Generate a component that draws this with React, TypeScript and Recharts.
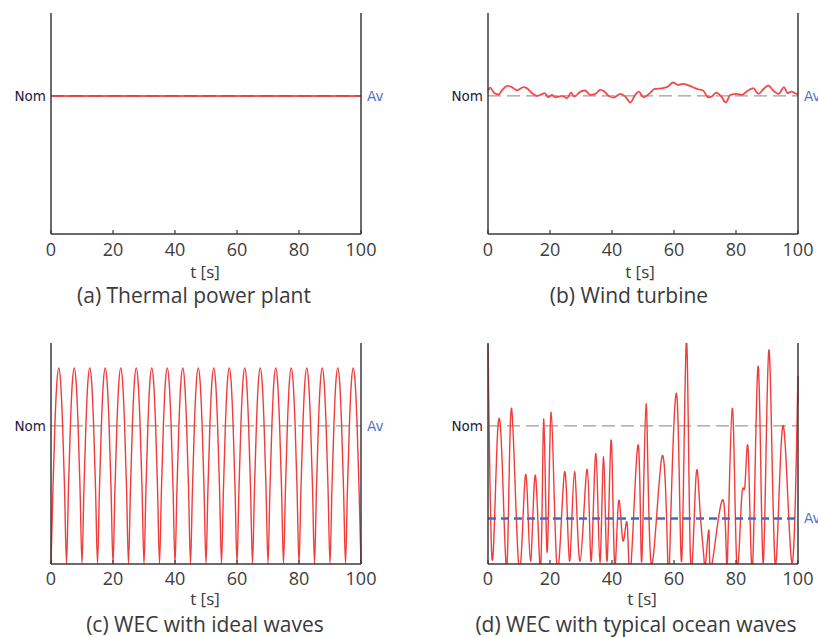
import { LineChart, Line, XAxis, YAxis, ReferenceLine } from "recharts";

// time axis
const T_TICKS = [0, 20, 40, 60, 80, 100];
const NOM = 1;
const Y_MAX = 1.6;

// (a) thermal plant: flat at nominal
const THERMAL_T = [0, 100];
const THERMAL_P = [1, 1];

// (b) wind turbine
const WIND_T = [
  0, 0.7, 2.0, 3.4, 4.5, 6.3, 7.7, 9.3, 11.5, 12.5, 14.2, 15.8, 16.9, 18.3, 19.5, 20.6, 21.7, 23.9,
  25.5, 26.8, 27.8, 29.8, 31.4, 33.0, 34.6, 36.2, 37.5, 38.9, 40.5, 42.7, 44.3, 45.9, 47.5, 48.6,
  50.2, 52.2, 53.8, 56.5, 58.1, 59.7, 61.3, 62.9, 65.1, 67.8, 69.4, 71.0, 72.1, 73.7, 75.3, 76.7,
  78.2, 80.2, 81.8, 83.9, 85.6, 87.2, 88.8, 90.4, 92.0, 93.7, 95.5, 96.6, 97.9, 99.6, 100,
];
const WIND_P = [
  1.035, 1.06, 1.02, 1.01, 1.04, 1.072, 1.063, 1.04, 1.063, 1.056, 1.02, 1.0, 1.007, 1.02, 0.99, 1.007, 0.99, 1.0,
  0.983, 1.024, 0.995, 1.031, 1.039, 1.007, 1.014, 1.043, 1.031, 1.0, 0.988, 1.014, 0.995, 0.952, 1.007, 1.031,
  0.99, 1.02, 1.05, 1.056, 1.068, 1.097, 1.08, 1.087, 1.072, 1.048, 1.039, 0.99, 0.995, 1.024, 0.995, 0.952,
  1.007, 1.014, 1.007, 1.039, 1.056, 1.014, 1.048, 1.075, 1.039, 1.014, 1.063, 1.02, 1.031, 1.014, 1.02,
];

// (c) WEC with ideal waves, sampled every 0.625 s (one row per 5 s wave)
const IDEAL_DT = 0.625;
const IDEAL_P = [
  0, 0.54, 1.0, 1.31, 1.42, 1.31, 1.0, 0.54,
  0, 0.54, 1.0, 1.31, 1.42, 1.31, 1.0, 0.54,
  0, 0.54, 1.0, 1.31, 1.42, 1.31, 1.0, 0.54,
  0, 0.54, 1.0, 1.31, 1.42, 1.31, 1.0, 0.54,
  0, 0.54, 1.0, 1.31, 1.42, 1.31, 1.0, 0.54,
  0, 0.54, 1.0, 1.31, 1.42, 1.31, 1.0, 0.54,
  0, 0.54, 1.0, 1.31, 1.42, 1.31, 1.0, 0.54,
  0, 0.54, 1.0, 1.31, 1.42, 1.31, 1.0, 0.54,
  0, 0.54, 1.0, 1.31, 1.42, 1.31, 1.0, 0.54,
  0, 0.54, 1.0, 1.31, 1.42, 1.31, 1.0, 0.54,
  0, 0.54, 1.0, 1.31, 1.42, 1.31, 1.0, 0.54,
  0, 0.54, 1.0, 1.31, 1.42, 1.31, 1.0, 0.54,
  0, 0.54, 1.0, 1.31, 1.42, 1.31, 1.0, 0.54,
  0, 0.54, 1.0, 1.31, 1.42, 1.31, 1.0, 0.54,
  0, 0.54, 1.0, 1.31, 1.42, 1.31, 1.0, 0.54,
  0, 0.54, 1.0, 1.31, 1.42, 1.31, 1.0, 0.54,
  0, 0.54, 1.0, 1.31, 1.42, 1.31, 1.0, 0.54,
  0, 0.54, 1.0, 1.31, 1.42, 1.31, 1.0, 0.54,
  0, 0.54, 1.0, 1.31, 1.42, 1.31, 1.0, 0.54,
  0, 0.54, 1.0, 1.31, 1.42, 1.31, 1.0, 0.54,
  0,
];

// (d) WEC with typical ocean waves
const OCEAN_T = [
  0, 1.35, 3.0, 4.6, 6.2, 7.6, 10.0, 12.1, 13.7, 15.3, 17.0, 18.0, 19.1, 20.4, 22.3, 24.7, 26.3, 27.9,
  29.7, 32.0, 33.3, 34.8, 36.1, 37.3, 38.4, 39.7, 40.8, 42.1, 43.5, 44.9, 46.1, 48.5, 49.6, 51.0, 52.6,
  56.1, 58.0, 58.9, 61.0, 62.5, 64.0, 65.3, 67.0, 68.3, 69.6, 70.2, 71.3, 72.1, 75.9, 77.2, 78.8, 80.2,
  81.8, 82.9, 84.0, 85.4, 87.2, 88.8, 90.6, 92.6, 95.1, 98.0, 99.8, 100,
];
const OCEAN_P = [
  1.59, 0.03, 0.91, 0.715, 0.02, 1.127, -0.03, 0.647, 0.02, 0.642, -0.02, 1.05, 0.085, 1.1, -0.03, 0.667, 0.02, 0.67,
  0.02, 0.686, 0.02, 0.8, 0.01, 0.776, 0.02, 0.897, 0.01, 0.448, 0.17, 0.29, -0.02, 0.86, 0.02, 1.16, 0.01,
  0.776, 0.01, 0.29, 1.2, 0.03, 1.62, 0.05, 0.594, 0.42, 0.06, 0.0, 0.24, -0.02, 0.46, 0.01, 1.127, 0.02,
  0.47, 0.57, 0.79, 0.01, 1.43, 0.01, 1.55, 0.01, 1.0, 0.01, 1.16, 1.16,
];
const OCEAN_AV = 0.33;

const zip = (ts: number[], ps: number[]) => ts.map((t, i) => ({ t, p: ps[i] }));
const thermalData = zip(THERMAL_T, THERMAL_P);
const windData = zip(WIND_T, WIND_P);
const idealData = IDEAL_P.map((p, i) => ({ t: i * IDEAL_DT, p }));
const oceanData = zip(OCEAN_T, OCEAN_P);

const FRAME = { stroke: "#3a3a3a", strokeWidth: 1.5 };
const PLOT_W = 310;
const PLOT_H = 221;
const AXIS_W = 51;
const TOP = 13;

type PanelProps = {
  left: number;
  top: number;
  data: { t: number; p: number }[];
  av: number;
  showAvLine?: boolean;
  color: string;
  width: number;
  curve: "monotone" | "natural";
  tickMargin: number;
};

const Panel = ({ left, top, data, av, showAvLine, color, width, curve, tickMargin }: PanelProps) => (
  <div style={{ position: "absolute", left, top }}>
    <LineChart
      width={AXIS_W * 2 + PLOT_W}
      height={TOP + PLOT_H + 30}
      data={data}
      margin={{ top: TOP, right: 0, bottom: 0, left: 0 }}
    >
      <XAxis
        xAxisId="b"
        dataKey="t"
        type="number"
        domain={[0, 100]}
        ticks={T_TICKS}
        interval={0}
        height={30}
        tickSize={-4}
        tickMargin={tickMargin}
        axisLine={FRAME}
        tickLine={{ stroke: "#3a3a3a", strokeWidth: 1.2 }}
        tick={{ fill: "#3d3d3d", fontSize: 18, fontFamily: "Open Sans" }}
      />
      <XAxis
        xAxisId="top"
        orientation="top"
        dataKey="t"
        type="number"
        domain={[0, 100]}
        ticks={T_TICKS}
        interval={0}
        height={0}
        tickSize={-4}
        tickFormatter={() => ""}
        axisLine={FRAME}
        tickLine={{ stroke: "#3a3a3a", strokeWidth: 1.2 }}
      />
      <YAxis
        yAxisId="l"
        type="number"
        domain={[0, Y_MAX]}
        allowDataOverflow
        ticks={[NOM]}
        tickFormatter={() => "Nom"}
        width={AXIS_W}
        tickSize={0}
        tickMargin={5}
        tickLine={false}
        axisLine={FRAME}
        tick={{ fill: "#1c1c38", fontSize: 13.5, fontFamily: "DejaVu Sans" }}
      />
      <YAxis
        yAxisId="r"
        orientation="right"
        type="number"
        domain={[0, Y_MAX]}
        allowDataOverflow
        ticks={[av]}
        tickFormatter={() => "Av"}
        width={AXIS_W}
        tickSize={0}
        tickMargin={6}
        tickLine={false}
        axisLine={FRAME}
        tick={{ fill: "#4a72c8", fontSize: 13.5, fontFamily: "DejaVu Sans" }}
      />
      <ReferenceLine xAxisId="b" yAxisId="l" y={NOM} stroke="#9c9c9c" strokeWidth={1.4} strokeDasharray="13 6" />
      <Line
        xAxisId="b"
        yAxisId="l"
        dataKey="p"
        type={curve}
        stroke={color}
        strokeWidth={width}
        dot={false}
        isAnimationActive={false}
      />
      {showAvLine && (
        <ReferenceLine xAxisId="b" yAxisId="l" y={av} stroke="#3a6bd0" strokeWidth={2.5} strokeDasharray="8 5" />
      )}
    </LineChart>
  </div>
);

const Caption = ({ x, y, size, text }: { x: number; y: number; size: number; text: string }) => (
  <div
    style={{
      position: "absolute",
      left: x,
      top: y,
      transform: "translate(-50%, -50%)",
      whiteSpace: "nowrap",
      lineHeight: 1,
      fontFamily: "Open Sans",
      fontSize: size,
      color: "#3a3a3a",
    }}
  >
    {text}
  </div>
);

export default function App() {
  return (
    <div
      style={{
        position: "absolute",
        left: 0,
        top: 0,
        width: 818,
        height: 637,
        overflow: "hidden",
        background: "#fff",
      }}
    >
      <Panel left={0} top={0} data={thermalData} av={NOM} color="#ee1c1c" width={1.5} curve="monotone" tickMargin={13} />
      <Panel left={437} top={0} data={windData} av={NOM} color="#f24a4a" width={1.8} curve="monotone" tickMargin={13} />
      <Panel left={0} top={330} data={idealData} av={NOM} color="#f23c3c" width={1.4} curve="monotone" tickMargin={12} />
      <Panel left={437} top={330} data={oceanData} av={OCEAN_AV} showAvLine color="#f23c3c" width={1.4} curve="natural" tickMargin={12} />

      <Caption x={205} y={271} size={17} text="t [s]" />
      <Caption x={640} y={271} size={17} text="t [s]" />
      <Caption x={205} y={598} size={17} text="t [s]" />
      <Caption x={642} y={598} size={17} text="t [s]" />

      <Caption x={194} y={295} size={21} text="(a) Thermal power plant" />
      <Caption x={629} y={295} size={21} text="(b) Wind turbine" />
      <Caption x={205} y={624} size={21} text="(c) WEC with ideal waves" />
      <Caption x={636} y={624} size={21} text="(d) WEC with typical ocean waves" />
    </div>
  );
}
